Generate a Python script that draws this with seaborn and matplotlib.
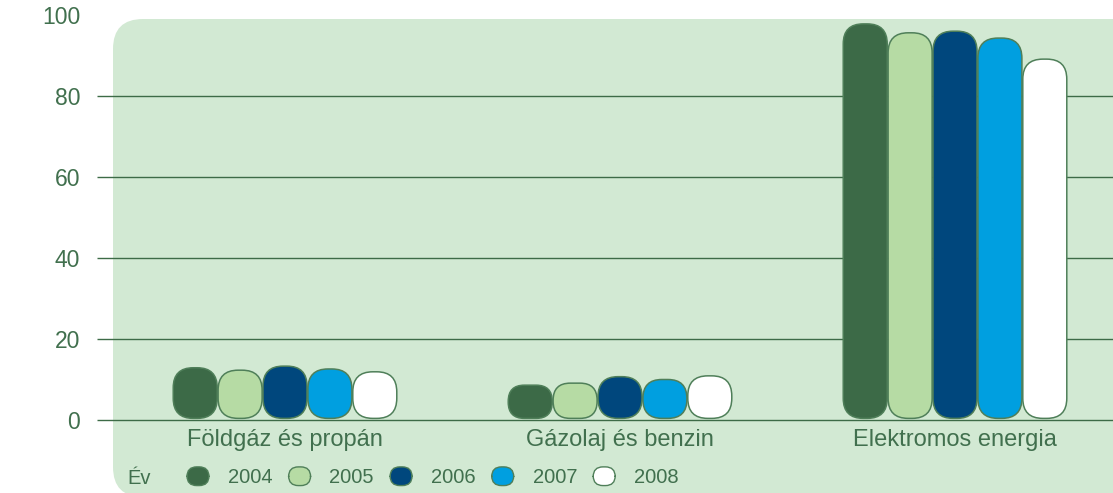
import numpy as np
import pandas as pd
import seaborn as sns
import matplotlib
matplotlib.use("Agg")
import matplotlib.pyplot as plt
from matplotlib.patches import FancyBboxPatch, Patch
from matplotlib.legend_handler import HandlerPatch
from matplotlib.transforms import IdentityTransform

# data
categories = ["Földgáz és propán", "Gázolaj és benzin", "Elektromos energia"]
years = ["2004", "2005", "2006", "2007", "2008"]
v2004 = [12.9, 8.6, 97.8]
v2005 = [12.3, 9.1, 95.6]
v2006 = [13.3, 10.7, 96.0]
v2007 = [12.6, 10.0, 94.3]
v2008 = [11.9, 10.9, 89.1]
yticks = [0, 20, 40, 60, 80, 100]
gridlines = [0, 20, 40, 60, 80]

colors = ["#3c6a47", "#b6dba4", "#00477d", "#009fe0", "#ffffff"]
text_color = "#41704e"
edge_color = "#4f7f59"
bg_color = "#d2e9d3"

df = pd.DataFrame({
    "kategoria": categories * len(years),
    "ev": np.repeat(years, len(categories)),
    "ertek": v2004 + v2005 + v2006 + v2007 + v2008,
})

sns.set_style("white")
plt.rcParams["font.family"] = ["Liberation Sans", "DejaVu Sans"]

W, H = 1113, 493
fig = plt.figure(figsize=(W / 100, H / 100), dpi=100)

# rounded green panel behind the plot (pixel coordinates)
bg = FancyBboxPatch((113, -4), 1100, 478, boxstyle="round,pad=0,rounding_size=30",
                    transform=IdentityTransform(), fc=bg_color, ec="none", zorder=-5)
fig.patches.append(bg)

ax = fig.add_axes([97 / W, 73 / H, (W - 97) / W, 420 / H])
ax.set_facecolor("none")

sns.barplot(data=df, x="kategoria", y="ertek", hue="ev", order=categories,
            hue_order=years, palette=colors, saturation=1, width=0.67, gap=0.02,
            legend=False, ax=ax)

ax.set_xlim(-0.5612, 2.4716)
ax.set_ylim(0, 103.7)

# swap plain bars for rounded ones (corner radius capped so short bars become pills)
p0, p1 = ax.transData.transform([[0, 0], [1, 1]])
sx, sy = p1[0] - p0[0], p1[1] - p0[1]
for p in list(ax.patches):
    x, y, w, h = p.get_x(), p.get_y(), p.get_width(), p.get_height()
    fc = p.get_facecolor()
    p.remove()
    h = h - 0.4
    r_px = min(20, (h * sy) / 2 - 0.5, (w * sx) / 2 - 0.5)
    ax.add_patch(FancyBboxPatch((x, y + 0.4), w, h,
                                boxstyle=f"round,pad=0,rounding_size={r_px / sx}",
                                mutation_aspect=sx / sy, fc=fc, ec=edge_color,
                                lw=1.1, zorder=3))

ax.hlines(gridlines, -0.5612, 2.4716, colors="#3d6b47", lw=1.0, zorder=1, clip_on=False)

for s in ax.spines.values():
    s.set_visible(False)
ax.set_yticks(yticks)
ax.set_yticklabels([str(t) for t in yticks])
ax.tick_params(axis="y", length=0, pad=12, labelsize=16.5, labelcolor=text_color)
ax.tick_params(axis="x", length=0, pad=6.5, labelsize=17, labelcolor=text_color)
ax.set_xlabel("")
ax.set_ylabel("")
ax.grid(False)


def rounded_handle(legend, orig_handle, xdescent, ydescent, width, height, fontsize):
    return FancyBboxPatch((-xdescent, -ydescent), width, height,
                          boxstyle="round,pad=0,rounding_size=7")


handles = [Patch(facecolor=c, edgecolor=edge_color, lw=1.0) for c in colors]
fig.legend(handles, years, loc="center left", bbox_to_anchor=(187 / W, 1 - 477 / H),
           ncol=5, frameon=False, fontsize=14.5, labelcolor=text_color,
           handlelength=1.09, handleheight=1.05, handletextpad=0.94,
           columnspacing=0.8, borderpad=0, borderaxespad=0,
           handler_map={Patch: HandlerPatch(patch_func=rounded_handle)})
fig.text(127 / W, 1 - 478 / H, "Év", ha="left", va="center", fontsize=14.5, color=text_color)

fig.savefig("out.png", dpi=100)
